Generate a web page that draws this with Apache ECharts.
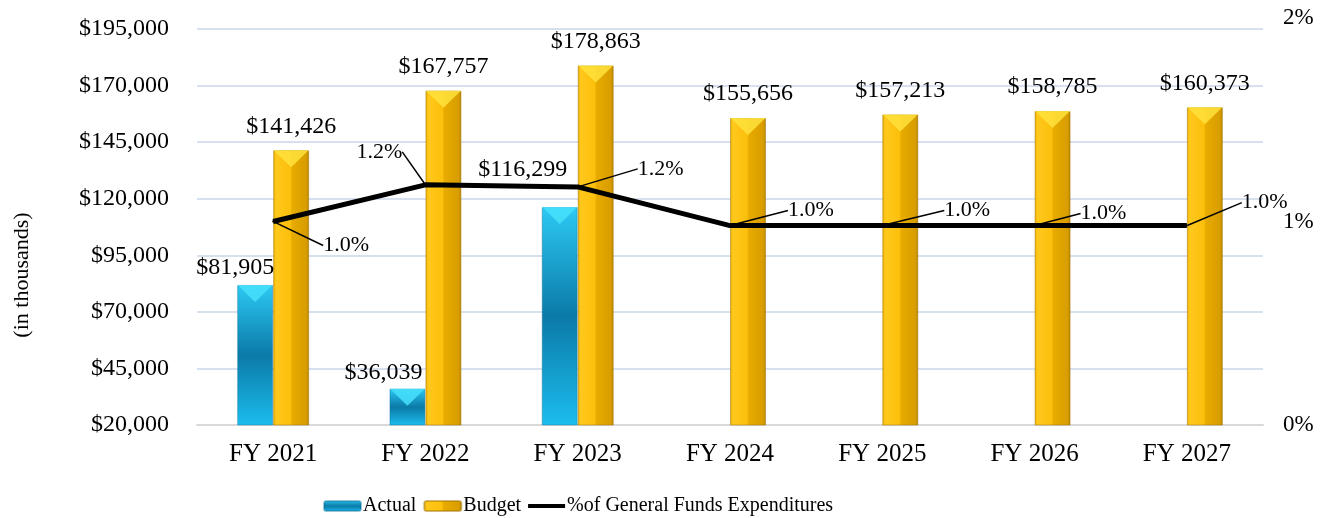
<!DOCTYPE html>
<html>
<head>
<meta charset="utf-8">
<script src="https://cdn.jsdelivr.net/npm/echarts@6/dist/echarts.min.js"></script>
<style>
  html, body { margin: 0; padding: 0; background: #fff; }
  #chart { width: 1328px; height: 518px; }
</style>
</head>
<body>
<div id="chart"></div>
<script>
// data
const categories = ['FY 2021', 'FY 2022', 'FY 2023', 'FY 2024', 'FY 2025', 'FY 2026', 'FY 2027'];
const actualValues = [81905, 36039, 116299, null, null, null, null];
const budgetValues = [141426, 167757, 178863, 155656, 157213, 158785, 160373];
const pctValues = [1.00, 1.18, 1.17, 0.98, 0.98, 0.98, 0.98];
const leftAxis = { min: 20000, max: 195000, step: 25000 };
const rightAxis = { min: 0, max: 2, step: 1 };

// label placement (px shifts)
const actualLabelShift = [[-20, 0], [-24, 1], [-37, -20]];
const pctLabelShift = [[44, 24], [-75, -33], [54, -18], [52, -15], [56, -15], [40, -12], [49, -23]];

const serif = 'Liberation Serif';
const chart = echarts.init(document.getElementById('chart'));

const budgetColor = new echarts.graphic.LinearGradient(0, 0, 1, 0, [
  { offset: 0, color: '#e9ad00' },
  { offset: 0.08, color: '#ffc81c' },
  { offset: 0.48, color: '#fcbf0c' },
  { offset: 0.52, color: '#e8ab00' },
  { offset: 0.92, color: '#d89d00' },
  { offset: 1, color: '#b58300' }
]);
const actualColor = new echarts.graphic.LinearGradient(0, 0, 0, 1, [
  { offset: 0, color: '#2cc9f3' },
  { offset: 0.5, color: '#0b7aa8' },
  { offset: 1, color: '#1cbdee' }
]);
// bevel triangle on the top of each bar
const bevel = 'path://M0,0 L36,0 L18,17 Z';
const lineIcon = 'path://M0,0L0.01,0L0,0Z M0,3L37,3L37,7L0,7Z M0,10L0.01,10L0,10Z';

const fmtMoney = p => '$' + p.value.toLocaleString('en-US');

chart.setOption({
  animation: false,
  textStyle: { fontFamily: serif, color: '#000' },
  legend: {
    left: 318,
    top: 491,
    itemWidth: 37,
    itemHeight: 10,
    itemGap: 7,
    textStyle: { fontFamily: serif, fontSize: 20, color: '#000', padding: [0, 0, 0, -3] },
    data: [
      'Actual',
      'Budget',
      { name: '%of General Funds Expenditures', icon: lineIcon, itemStyle: { color: '#000' } }
    ]
  },
  grid: [
    { left: 197, right: 65, top: 29, bottom: 93 },
    { left: 197, right: 65, top: 18, bottom: 93 }
  ],
  xAxis: [
    {
      type: 'category',
      gridIndex: 0,
      data: categories,
      axisTick: { show: false },
      axisLine: { lineStyle: { color: '#d9d9d9', width: 2 } },
      axisLabel: { fontFamily: serif, fontSize: 25, color: '#000', margin: 17 }
    },
    {
      type: 'category',
      gridIndex: 1,
      data: categories,
      show: false
    }
  ],
  yAxis: [
    {
      type: 'value',
      gridIndex: 0,
      min: leftAxis.min,
      max: leftAxis.max,
      interval: leftAxis.step,
      name: '(in thousands)',
      nameLocation: 'middle',
      nameGap: 164,
      nameTextStyle: { fontFamily: serif, fontSize: 22, color: '#000', padding: [0, 96, 0, 0] },
      axisLine: { show: false },
      axisTick: { show: false },
      splitLine: { lineStyle: { color: '#c8d6ea', width: 1.5 } },
      axisLabel: {
        fontFamily: serif, fontSize: 24, color: '#000', margin: 28,
        formatter: v => '$' + v.toLocaleString('en-US')
      }
    },
    {
      type: 'value',
      gridIndex: 1,
      position: 'right',
      min: rightAxis.min,
      max: rightAxis.max,
      interval: rightAxis.step,
      axisLine: { show: false },
      axisTick: { show: false },
      splitLine: { show: false },
      axisLabel: {
        fontFamily: serif, fontSize: 23, color: '#000', margin: 20,
        formatter: v => v + '%'
      }
    }
  ],
  series: [
    {
      name: 'Actual',
      type: 'bar',
      xAxisIndex: 0,
      yAxisIndex: 0,
      barWidth: 36,
      barGap: '0%',
      itemStyle: { color: actualColor, borderColor: 'rgba(10,110,150,0.4)', borderWidth: 1 },
      label: {
        show: true,
        position: 'top',
        distance: 5,
        fontFamily: serif,
        fontSize: 24,
        color: '#000',
        formatter: fmtMoney
      },
      data: actualValues.map((v, i) => {
        const s = actualLabelShift[i];
        return s ? { value: v, label: { offset: s } } : v;
      })
    },
    {
      name: 'Budget',
      type: 'bar',
      xAxisIndex: 0,
      yAxisIndex: 0,
      barWidth: 36,
      barGap: '0%',
      itemStyle: { color: budgetColor, borderColor: 'rgba(160,115,0,0.5)', borderWidth: 1 },
      label: {
        show: true,
        position: 'top',
        distance: 12,
        fontFamily: serif,
        fontSize: 24,
        color: '#000',
        formatter: fmtMoney
      },
      data: budgetValues
    },
    {
      name: 'ActualBevel',
      type: 'pictorialBar',
      xAxisIndex: 0,
      yAxisIndex: 0,
      barWidth: 36,
      barGap: '0%',
      symbol: bevel,
      symbolSize: [35, 17],
      symbolPosition: 'end',
      symbolOffset: [0, 0],
      itemStyle: { color: 'rgba(70,225,252,0.85)' },
      silent: true,
      z: 3,
      data: actualValues
    },
    {
      name: 'BudgetBevel',
      type: 'pictorialBar',
      xAxisIndex: 0,
      yAxisIndex: 0,
      barWidth: 36,
      barGap: '0%',
      symbol: bevel,
      symbolSize: [35, 17],
      symbolPosition: 'end',
      symbolOffset: [0, 0],
      itemStyle: { color: 'rgba(255,226,60,0.85)' },
      silent: true,
      z: 3,
      data: budgetValues
    },
    {
      name: '%of General Funds Expenditures',
      type: 'line',
      xAxisIndex: 1,
      yAxisIndex: 1,
      symbol: 'circle',
      symbolSize: 2,
      itemStyle: { color: '#000' },
      lineStyle: { color: '#000', width: 5 },
      z: 5,
      label: {
        show: true,
        position: 'right',
        distance: 5,
        fontFamily: serif,
        fontSize: 22,
        color: '#000',
        formatter: p => p.value.toFixed(1) + '%'
      },
      labelLine: { show: true, lineStyle: { color: '#000', width: 1.5 } },
      labelLayout: params => {
        const s = pctLabelShift[params.dataIndex];
        return { dx: s[0], dy: s[1] };
      },
      data: pctValues
    }
  ]
});
</script>
</body>
</html>
